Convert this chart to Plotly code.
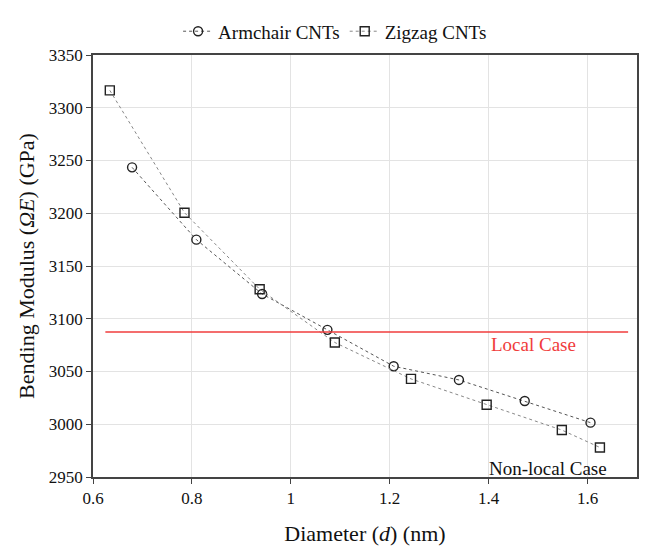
import plotly.graph_objects as go

# Data
arm_d = [0.679, 0.809, 0.942, 1.074, 1.208, 1.340, 1.473, 1.606]
arm_v = [3243.5, 3175.0, 3123.5, 3089.5, 3055.0, 3042.0, 3022.0, 3001.5]
zig_d = [0.634, 0.785, 0.937, 1.089, 1.243, 1.396, 1.548, 1.625]
zig_v = [3316.5, 3200.5, 3128.0, 3077.5, 3043.0, 3018.5, 2994.5, 2978.0]
local_d = [0.625, 1.682]
local_v = [3087.5, 3087.5]

x_ticks = [0.6, 0.8, 1.0, 1.2, 1.4, 1.6]
x_tick_labels = ["0.6", "0.8", "1", "1.2", "1.4", "1.6"]
y_ticks = [2950, 3000, 3050, 3100, 3150, 3200, 3250, 3300, 3350]

FONT = "Liberation Serif, Times New Roman, serif"
RED = "#f03c3c"

fig = go.Figure()
fig.add_trace(go.Scatter(
    x=arm_d, y=arm_v, mode="lines+markers", name="Armchair CNTs",
    line=dict(color="#555555", width=1, dash="dot"),
    marker=dict(symbol="circle-open", size=9, color="#222222", line=dict(width=1.4, color="#222222")),
))
fig.add_trace(go.Scatter(
    x=zig_d, y=zig_v, mode="lines+markers", name="Zigzag CNTs",
    line=dict(color="#888888", width=1, dash="dot"),
    marker=dict(symbol="square-open", size=9, color="#222222", line=dict(width=1.4, color="#222222")),
))
fig.add_trace(go.Scatter(
    x=local_d, y=local_v, mode="lines", showlegend=False,
    line=dict(color=RED, width=1.5), hoverinfo="skip",
))

fig.add_annotation(x=1.49, y=3076, text="Local Case", showarrow=False,
                   font=dict(family=FONT, size=19, color=RED))
fig.add_annotation(x=1.521, y=2958.5, text="Non-local Case", showarrow=False,
                   font=dict(family=FONT, size=19, color="#111111"))

fig.update_layout(
    width=651, height=554,
    margin=dict(l=93, r=12, t=42, b=72),
    paper_bgcolor="white", plot_bgcolor="white",
    font=dict(family=FONT, size=16, color="#111111"),
    showlegend=True,
    legend=dict(orientation="h", x=0.445, xanchor="center", y=1.056, yanchor="middle",
                font=dict(family=FONT, size=19), bgcolor="rgba(0,0,0,0)",
                itemwidth=30, tracegroupgap=0),
    xaxis=dict(
        range=[0.6, 1.7], tickvals=x_ticks, ticktext=x_tick_labels,
        showgrid=True, gridcolor="#e3e3e3", gridwidth=1,
        showline=True, linecolor="#444444", linewidth=1.5, mirror=True,
        ticks="outside", ticklen=5, tickcolor="#444444",
        tickfont=dict(family=FONT, size=17),
        title=dict(text="Diameter (<i>d</i>) (nm)", font=dict(family=FONT, size=22), standoff=18),
        zeroline=False,
    ),
    yaxis=dict(
        range=[2950, 3350], tickvals=y_ticks,
        showgrid=True, gridcolor="#e3e3e3", gridwidth=1,
        showline=True, linecolor="#444444", linewidth=1.5, mirror=True,
        ticks="outside", ticklen=5, tickcolor="#444444",
        tickfont=dict(family=FONT, size=17),
        title=dict(text="Bending Modulus (<i>ΩE</i>) (GPa)", font=dict(family=FONT, size=22), standoff=8),
        zeroline=False,
    ),
)

fig.write_html("out.html")
